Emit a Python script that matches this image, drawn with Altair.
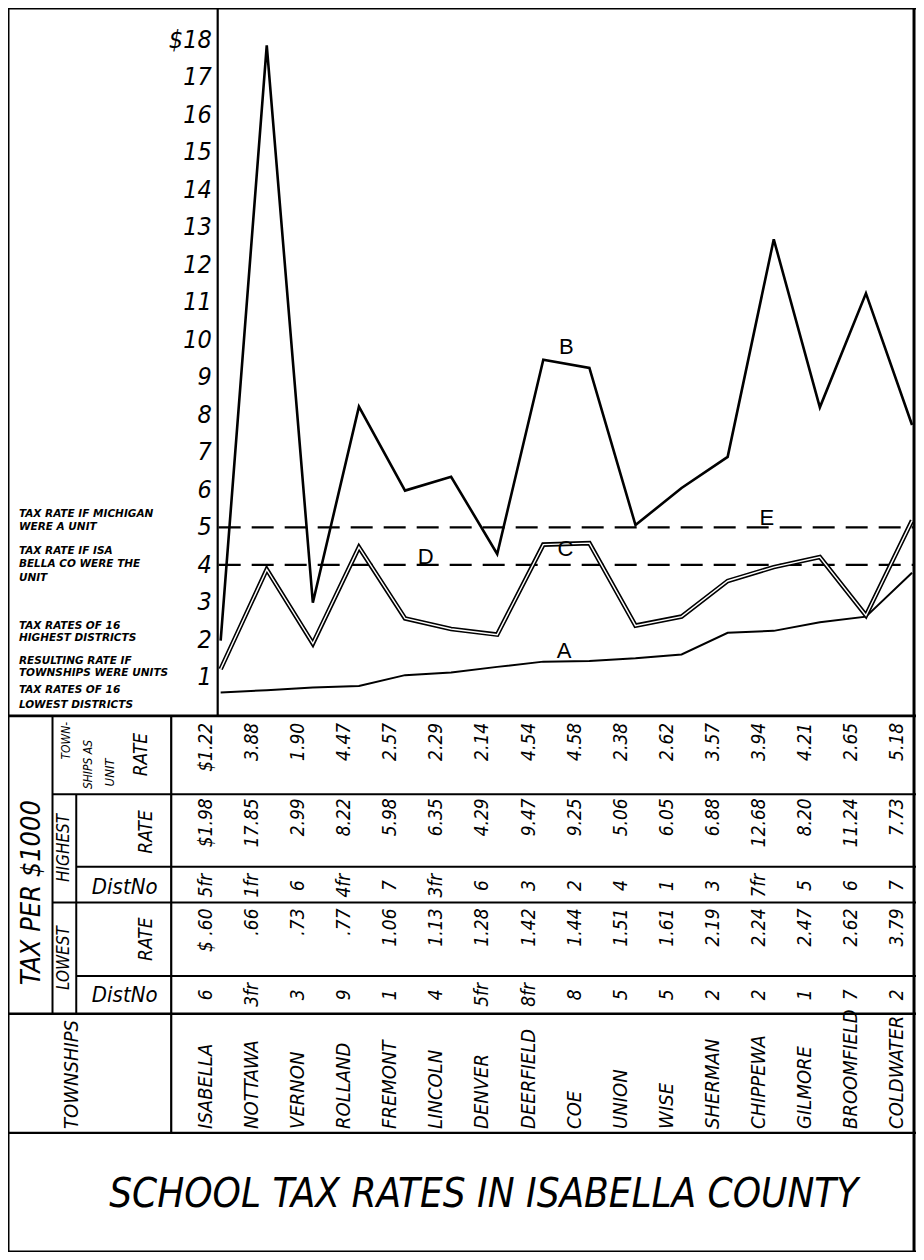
import altair as alt
import pandas as pd

# ---------------- data ----------------
townships = ["ISABELLA", "NOTTAWA", "VERNON", "ROLLAND", "FREMONT", "LINCOLN", "DENVER",
             "DEERFIELD", "COE", "UNION", "WISE", "SHERMAN", "CHIPPEWA", "GILMORE",
             "BROOMFIELD", "COLDWATER"]
unit_rate = [1.22, 3.88, 1.90, 4.47, 2.57, 2.29, 2.14, 4.54, 4.58, 2.38, 2.62, 3.57, 3.94, 4.21, 2.65, 5.18]
high_rate = [1.98, 17.85, 2.99, 8.22, 5.98, 6.35, 4.29, 9.47, 9.25, 5.06, 6.05, 6.88, 12.68, 8.20, 11.24, 7.73]
high_dist = ["5fr", "1fr", "6", "4fr", "7", "3fr", "6", "3", "2", "4", "1", "3", "7fr", "5", "6", "7"]
low_rate = [0.60, 0.66, 0.73, 0.77, 1.06, 1.13, 1.28, 1.42, 1.44, 1.51, 1.61, 2.19, 2.24, 2.47, 2.62, 3.79]
low_dist = ["6", "3fr", "3", "9", "1", "4", "5fr", "8fr", "8", "5", "5", "2", "2", "1", "7", "2"]
michigan_unit_rate = 5.0
county_unit_rate = 4.0
tick_values = list(range(1, 19))
tick_labels = [str(v) for v in range(1, 18)] + ["$18"]
letters = ["A", "B", "C", "D", "E"]
letter_idx = [7.45, 7.5, 7.48, 4.45, 11.85]
letter_val = [1.7, 9.8, 4.42, 4.2, 5.25]

# ---------------- layout helpers ----------------
W, H = 908, 1244
SX, SY = W / 918.0, H / 1253.0


def X(x):
    return (x - 3) * SX


def Y(y):
    return (y - 2) * SY


HAND = "Liberation Sans Narrow, DejaVu Sans Condensed, Liberation Sans, sans-serif"
PLAIN = "Liberation Sans, DejaVu Sans, sans-serif"


def fmt(v, dollar=False):
    s = f"{v:.2f}"
    if v < 1:
        s = s[1:]
    return ("$" + s) if dollar else s


df = pd.DataFrame({
    "idx": list(range(len(townships))),
    "township": townships,
    "unit": unit_rate,
    "high": high_rate,
    "low": low_rate,
    "unit_lbl": [fmt(v, i == 0) for i, v in enumerate(unit_rate)],
    "high_lbl": [fmt(v, i == 0) for i, v in enumerate(high_rate)],
    "low_lbl": [("$ " + fmt(v)) if i == 0 else fmt(v) for i, v in enumerate(low_rate)],
    "high_dist": high_dist,
    "low_dist": low_dist,
})

xs = alt.Scale(domain=[0, 15], range=[X(218), X(917)], nice=False, zero=False)
ys = alt.Scale(domain=[0, 18], range=[Y(714), Y(34)], nice=False, zero=False)

one = pd.DataFrame({"d": [0]})
layers = []


def seg(x1, y1, x2, y2, w=2.0):
    return alt.Chart(one).mark_rule(color="black", strokeWidth=w).encode(
        x=alt.value(X(x1)), x2=alt.value(X(x2)), y=alt.value(Y(y1)), y2=alt.value(Y(y2)))


def txt(x, y, text, size=12, angle=0, align="center", baseline="middle",
        weight="normal", style="normal", font=PLAIN):
    return alt.Chart(one).mark_text(
        angle=angle, align=align, baseline=baseline, fontSize=size, fontWeight=weight,
        fontStyle=style, font=font, color="black").encode(
        x=alt.value(X(x)), y=alt.value(Y(y)), text=alt.value(text))


# frame and table grid
layers += [
    seg(3, 2, 921, 2, 3), seg(3, 1255, 921, 1255, 3), seg(3, 2, 3, 1255, 3), seg(919, 2, 919, 1255, 3),
    seg(215, 2, 215, 715, 2.2),
    seg(3, 715, 921, 715, 2.6),
    seg(48, 794, 921, 794), seg(72, 867, 921, 867), seg(48, 903, 921, 903),
    seg(72, 977, 921, 977), seg(3, 1015, 921, 1015, 2.4), seg(3, 1135, 921, 1135, 2.4),
    seg(48, 715, 48, 1015), seg(72, 794, 72, 1015), seg(168, 715, 168, 1135, 2.2),
]

# reference dashed lines D and E
ref = pd.DataFrame({"value": [michigan_unit_rate, county_unit_rate]})
layers.append(alt.Chart(ref).mark_rule(color="black", strokeWidth=2.2, strokeDash=[22, 11]).encode(
    y=alt.Y("value:Q", scale=ys, axis=None), x=alt.value(X(216)), x2=alt.value(X(918))))

base = alt.Chart(df)
xenc = alt.X("idx:Q", scale=xs, axis=None)
# A: lowest districts
layers.append(base.mark_line(color="black", strokeWidth=2.0).encode(
    x=xenc, y=alt.Y("low:Q", scale=ys, axis=None)))
# B: highest districts
layers.append(base.mark_line(color="black", strokeWidth=2.6, strokeJoin="miter").encode(
    x=xenc, y=alt.Y("high:Q", scale=ys, axis=None)))
# C: townships as units (double line)
layers.append(base.mark_line(color="black", strokeWidth=4.6).encode(
    x=xenc, y=alt.Y("unit:Q", scale=ys, axis=None)))
layers.append(base.mark_line(color="white", strokeWidth=1.4).encode(
    x=xenc, y=alt.Y("unit:Q", scale=ys, axis=None)))

# letters on the lines
lab = pd.DataFrame({"label": letters, "idx": letter_idx, "value": letter_val})
layers.append(alt.Chart(lab).mark_text(fontSize=22, font=PLAIN, color="black").encode(
    x=alt.X("idx:Q", scale=xs, axis=None), y=alt.Y("value:Q", scale=ys, axis=None), text="label:N"))

# y tick labels
ticks = pd.DataFrame({"v": tick_values, "label": tick_labels})
layers.append(alt.Chart(ticks).mark_text(align="right", fontSize=25, fontStyle="italic",
                                         font=HAND, color="black").encode(
    x=alt.value(X(209)), y=alt.Y("v:Q", scale=ys, axis=None), text="label:N"))

# legend notes left of the axis
notes = [("TAX RATE IF MICHIGAN", 512), ("WERE A UNIT", 525),
         ("TAX RATE IF ISA", 549), ("BELLA CO WERE THE", 562), ("UNIT", 576),
         ("TAX RATES OF 16", 624), ("HIGHEST DISTRICTS", 637),
         ("RESULTING RATE IF", 660), ("TOWNSHIPS WERE UNITS", 672),
         ("TAX RATES OF 16", 689), ("LOWEST DISTRICTS", 704)]
for t, yy in notes:
    layers.append(txt(14, yy, t, size=10.5, align="left", weight="bold", style="italic",
                      font="DejaVu Sans"))

# table values
tb = base.transform_calculate(col="datum.idx - 0.32")
cx = alt.X("col:Q", scale=xs, axis=None)
tstyle = dict(angle=270, fontSize=19, fontStyle="italic", font=HAND, color="black", baseline="middle")
layers.append(tb.mark_text(align="right", **tstyle).encode(x=cx, y=alt.value(Y(722)), text="unit_lbl:N"))
layers.append(tb.mark_text(align="right", **tstyle).encode(x=cx, y=alt.value(Y(798)), text="high_lbl:N"))
layers.append(tb.mark_text(align="center", **tstyle).encode(x=cx, y=alt.value(Y(886)), text="high_dist:N"))
layers.append(tb.mark_text(align="right", **tstyle).encode(x=cx, y=alt.value(Y(909)), text="low_lbl:N"))
layers.append(tb.mark_text(align="center", **tstyle).encode(x=cx, y=alt.value(Y(996)), text="low_dist:N"))
layers.append(tb.mark_text(align="left", angle=270, fontSize=20, fontStyle="italic", font=HAND,
                           color="black", baseline="middle").encode(
    x=cx, y=alt.value(Y(1131)), text="township:N"))

# table row headers
layers += [
    txt(27, 893, "TAX PER $1000", size=27, angle=270, style="italic", font=HAND),
    txt(62, 740, "TOWN-", size=12, angle=270, style="italic", font=HAND),
    txt(84, 764, "SHIPS AS", size=12, angle=270, style="italic", font=HAND),
    txt(106, 772, "UNIT", size=13, angle=270, style="italic", font=HAND),
    txt(137, 754, "RATE", size=19, angle=270, style="italic", font=HAND),
    txt(60, 848, "HIGHEST", size=17, angle=270, style="italic", font=HAND),
    txt(143, 832, "RATE", size=19, angle=270, style="italic", font=HAND),
    txt(121, 887, "DistNo", size=22, style="italic", font=HAND),
    txt(60, 959, "LOWEST", size=17, angle=270, style="italic", font=HAND),
    txt(143, 940, "RATE", size=19, angle=270, style="italic", font=HAND),
    txt(121, 996, "DistNo", size=22, style="italic", font=HAND),
    txt(68, 1131, "TOWNSHIPS", size=20, angle=270, align="left", style="italic", font=HAND),
    txt(484, 1198, "SCHOOL TAX RATES IN ISABELLA COUNTY", size=40, style="italic", font=HAND),
]

chart = alt.layer(*layers).properties(
    width=W, height=H, padding=0, autosize=alt.AutoSizeParams(type="none")
).configure_view(stroke=None)

chart.save("out.html", embed_options={"renderer": "svg", "actions": False})
